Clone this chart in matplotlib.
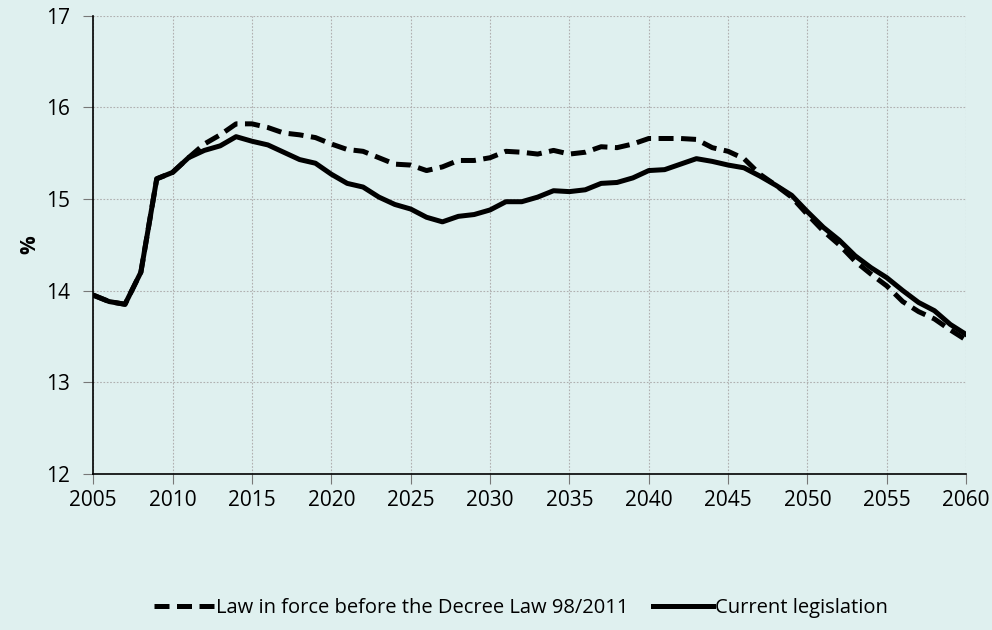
import matplotlib.pyplot as plt

years = list(range(2005, 2061))

current = [13.95, 13.88, 13.85, 14.20, 15.22, 15.29, 15.45, 15.53, 15.58, 15.68,
           15.63, 15.59, 15.51, 15.43, 15.39, 15.27, 15.17, 15.13, 15.02, 14.94,
           14.89, 14.80, 14.75, 14.81, 14.83, 14.88, 14.97, 14.97, 15.02, 15.09,
           15.08, 15.10, 15.17, 15.18, 15.23, 15.31, 15.32, 15.38, 15.44, 15.41,
           15.37, 15.34, 15.25, 15.15, 15.04, 14.86, 14.69, 14.55, 14.38, 14.25,
           14.14, 14.00, 13.87, 13.78, 13.63, 13.52]

before = [13.95, 13.88, 13.85, 14.20, 15.22, 15.29, 15.45, 15.60, 15.70, 15.82,
          15.82, 15.78, 15.72, 15.70, 15.67, 15.60, 15.54, 15.52, 15.45, 15.38,
          15.37, 15.31, 15.35, 15.42, 15.42, 15.45, 15.52, 15.51, 15.49, 15.53,
          15.49, 15.51, 15.57, 15.56, 15.60, 15.66, 15.66, 15.66, 15.65, 15.56,
          15.52, 15.44, 15.27, 15.15, 15.02, 14.83, 14.65, 14.50, 14.32, 14.18,
          14.05, 13.88, 13.77, 13.69, 13.57, 13.46]

label_before = "Law in force before the Decree Law 98/2011"
label_current = "Current legislation"

bg = "#dff0ef"
plt.rcParams['font.family'] = ['Open Sans', 'DejaVu Sans']

fig = plt.figure(figsize=(9.92, 6.3), dpi=100, facecolor=bg)
ax = fig.add_axes([0.094, 0.248, 0.880, 0.727], facecolor=bg)

ax.plot(years, before, color="k", linestyle=(0, (3, 1.5)), linewidth=3.6, label=label_before)
ax.plot(years, current, color="k", linewidth=3.6, label=label_current)

ax.set_xlim(2005, 2060)
ax.set_ylim(12, 17)
ax.set_xticks(range(2005, 2061, 5))
ax.set_yticks(range(12, 18))
ax.grid(True, color="#b0b0b0", linestyle=(0, (1.5, 1.5)), linewidth=0.8)
ax.set_axisbelow(True)
for s in ["top", "right"]:
    ax.spines[s].set_visible(False)
ax.spines["left"].set_linewidth(1.2)
ax.spines["bottom"].set_linewidth(1.2)
ax.tick_params(axis="both", labelsize=15, length=7, color="#777777")
ax.tick_params(axis="x", pad=5)
ax.tick_params(axis="y", pad=10)
ax.set_ylabel("%", fontsize=15, fontweight="bold", labelpad=4)

fig.legend(loc="center", bbox_to_anchor=(0.525, 0.035), ncol=2, frameon=False,
           fontsize=14.5, handlelength=3, columnspacing=1.2, handletextpad=0.1)

plt.savefig("out.png", dpi=100, facecolor=bg)
